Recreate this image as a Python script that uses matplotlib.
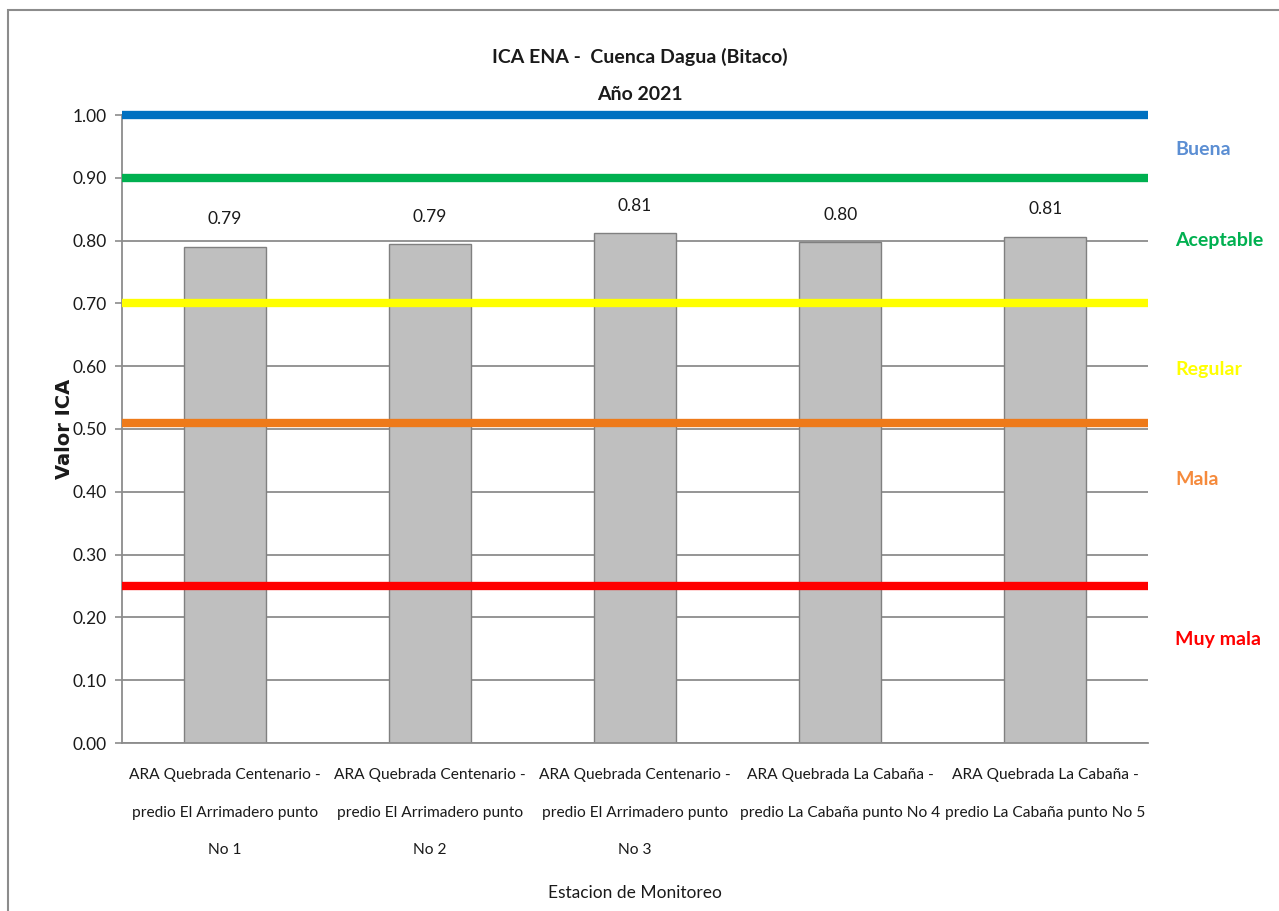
import matplotlib
matplotlib.use("Agg")
import matplotlib.pyplot as plt
from matplotlib.patches import Rectangle

plt.rcParams['font.family'] = ['Lato', 'DejaVu Sans']

# ---- data ----
categories = [
    "ARA Quebrada Centenario -\npredio El Arrimadero punto\nNo 1",
    "ARA Quebrada Centenario -\npredio El Arrimadero punto\nNo 2",
    "ARA Quebrada Centenario -\npredio El Arrimadero punto\nNo 3",
    "ARA Quebrada La Cabaña -\npredio La Cabaña punto No 4",
    "ARA Quebrada La Cabaña -\npredio La Cabaña punto No 5",
]
ica_values = [0.790, 0.794, 0.812, 0.797, 0.806]
value_labels = ["0.79", "0.79", "0.81", "0.80", "0.81"]

threshold_values = [1.00, 0.90, 0.70, 0.51, 0.25]
threshold_colors = ["#0070C0", "#00B050", "#FFFF00", "#EE7A1A", "#FF0000"]

class_names = ["Buena", "Aceptable", "Regular", "Mala", "Muy mala"]
class_positions = [0.945, 0.80, 0.595, 0.42, 0.165]
class_colors = ["#5B8ED3", "#00B050", "#FFFF00", "#F58A3C", "#FF0000"]

yticks = [0.0, 0.1, 0.2, 0.3, 0.4, 0.5, 0.6, 0.7, 0.8, 0.9, 1.0]

W, H = 1279, 911
fig = plt.figure(figsize=(W / 100, H / 100), dpi=100)
fig.patch.set_facecolor("white")

# outer frame
fig.patches.append(Rectangle((8 / W, -0.01), 1.2, 1 - 10 / H + 0.01, transform=fig.transFigure,
                             fill=False, edgecolor="#8C8C8C", linewidth=1.5))

ax = fig.add_axes([122 / W, 1 - 743 / H, (1148 - 122) / W, (743 - 115) / H])
x = list(range(len(categories)))
ax.set_xlim(-0.5, len(categories) - 0.5)
ax.set_ylim(0, 1.0)

ax.set_yticks(yticks)
ax.set_yticklabels([f"{v:.2f}" for v in yticks], fontsize=12.5, color="#1a1a1a")
ax.yaxis.grid(True, color="#8C8C8C", linewidth=1.3)
ax.set_axisbelow(True)

bars = ax.bar(x, ica_values, width=0.40, color="#BFBFBF", edgecolor="#808080", linewidth=1.0, zorder=2)
for xi, v, lab in zip(x, ica_values, value_labels):
    ax.annotate(lab, (xi, v), xytext=(0, 14), textcoords="offset points",
                ha="center", va="bottom", fontsize=12.5, color="#1a1a1a")

for v, c in zip(threshold_values, threshold_colors):
    ax.axhline(v, color=c, linewidth=6, zorder=3, clip_on=False, solid_capstyle="butt")

for name, pos, c in zip(class_names, class_positions, class_colors):
    ax.text(1175 / W, pos * (743 - 115) / H + (1 - 743 / H), name, transform=fig.transFigure,
            fontsize=14, fontweight="bold", color=c, ha="left", va="center")

ax.set_xticks(x)
ax.set_xticklabels(categories, fontsize=11.2, color="#1a1a1a", linespacing=3.15)
ax.tick_params(axis="x", length=0, pad=18)
ax.tick_params(axis="y", length=5, color="#8C8C8C", width=1.2, pad=6)

for s in ["top", "right"]:
    ax.spines[s].set_visible(False)
for s in ["left", "bottom"]:
    ax.spines[s].set_color("#8C8C8C")
    ax.spines[s].set_linewidth(1.3)

fig.text(640 / W, 1 - 57 / H, "ICA ENA -  Cuenca Dagua (Bitaco)", ha="center", va="center",
         fontsize=14, fontweight="bold", color="#1a1a1a")
fig.text(640 / W, 1 - 95 / H, "Año 2021", ha="center", va="center",
         fontsize=14, fontweight="bold", color="#1a1a1a")
fig.text(635 / W, 1 - 893 / H, "Estacion de Monitoreo", ha="center", va="center",
         fontsize=12.5, color="#1a1a1a")
fig.text(64 / W, 1 - 429 / H, "Valor ICA", ha="center", va="center", rotation=90,
         fontsize=14, fontweight="bold", color="#1a1a1a", family=["DejaVu Sans"])

fig.savefig("out.png", dpi=100, facecolor="white")
